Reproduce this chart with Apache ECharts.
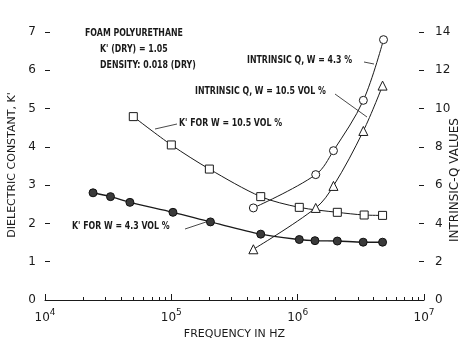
<!DOCTYPE html>
<html>
<head>
<meta charset="utf-8">
<script src="https://cdn.jsdelivr.net/npm/echarts@6/dist/echarts.min.js"></script>
<style>html,body{margin:0;padding:0;background:#fff}#c{width:465px;height:345px}</style>
</head>
<body>
<div id="c"></div>
<script>
// Frequencies (Hz) and values
const kLowFreq = [2.4e4, 3.3e4, 4.7e4, 1.03e5, 2.04e5, 5.1e5, 1.03e6, 1.37e6, 2.06e6, 3.3e6, 4.7e6];
const kLowVals = [2.80, 2.70, 2.55, 2.29, 2.04, 1.72, 1.58, 1.55, 1.54, 1.51, 1.51];
const kHighFreq = [5.0e4, 1.0e5, 2.0e5, 5.1e5, 1.03e6, 2.06e6, 3.36e6, 4.7e6];
const kHighVals = [4.79, 4.05, 3.42, 2.70, 2.42, 2.29, 2.22, 2.21];
const qLowFreq = [4.46e5, 1.39e6, 1.92e6, 3.31e6, 4.78e6];
const qLowVals = [4.81, 6.55, 7.80, 10.43, 13.6];
const qHighFreq = [4.46e5, 1.39e6, 1.92e6, 3.31e6, 4.7e6];
const qHighVals = [2.65, 4.81, 5.96, 8.83, 11.2];
const leftTicks = [0, 1, 2, 3, 4, 5, 6, 7];
const rightTicks = [0, 2, 4, 6, 8, 10, 12, 14];

const pair = (xs, ys) => xs.map((x, i) => [x, ys[i]]);
// minor tick positions (2..9 in each decade), in log10 units for the helper axis
const minorTicks = [];
for (let d = 4; d < 7; d++) for (let m = 2; m <= 9; m++) minorTicks.push(Math.log10(m * Math.pow(10, d)));

const ink = '#1a1a1a';
const annoFont = { fontFamily: 'DejaVu Sans Condensed', fontWeight: 'bold', fontSize: 9, fill: ink };
function txt(x, y, s) {
  return { type: 'text', x: x, y: y, z: 10, scaleX: 0.97, scaleY: 1.25,
    style: Object.assign({ text: s, textVerticalAlign: 'middle' }, annoFont) };
}
function ln(x1, y1, x2, y2) {
  return { type: 'line', z: 10, shape: { x1, y1, x2, y2 }, style: { stroke: ink, lineWidth: 0.8 } };
}

const chart = echarts.init(document.getElementById('c'), null, { renderer: 'canvas' });
chart.setOption({
  animation: false,
  backgroundColor: '#fff',
  grid: { left: 45, right: 41, top: 32, bottom: 45 },
  xAxis: [{
    type: 'log', logBase: 10, min: 1e4, max: 1e7,
    name: 'FREQUENCY IN HZ', nameLocation: 'middle', nameGap: 27,
    nameTextStyle: { fontFamily: 'DejaVu Sans', fontSize: 11, color: ink },
    axisLine: { show: true, lineStyle: { color: ink, width: 1 } },
    axisTick: { show: true, inside: true, length: 6, lineStyle: { color: ink, width: 1 } },
    splitLine: { show: false },
    minorTick: { show: false },
    axisLabel: {
      margin: 8, color: ink,
      formatter: v => '{b|10}{s|' + Math.round(Math.log10(v)) + '}',
      rich: {
        b: { fontFamily: 'DejaVu Sans', fontSize: 12, color: ink, lineHeight: 16, verticalAlign: 'bottom' },
        s: { fontFamily: 'DejaVu Sans', fontSize: 9, color: ink, lineHeight: 16, verticalAlign: 'top', padding: [0, 0, 6, 0] }
      }
    }
  }, {
    type: 'value', min: 4, max: 7, position: 'bottom', offset: 0,
    axisLine: { show: false },
    axisLabel: { show: false },
    splitLine: { show: false },
    axisTick: { show: true, inside: true, length: 3, customValues: minorTicks, lineStyle: { color: ink, width: 1 } }
  }],
  yAxis: [{
    type: 'value', min: 0, max: 7, interval: 1,
    axisLine: { show: false },
    axisTick: { show: true, inside: true, length: 5, lineStyle: { color: ink, width: 1 } },
    splitLine: { show: false },
    axisLabel: { margin: 9, color: ink, fontFamily: 'DejaVu Sans', fontSize: 12,
      customValues: leftTicks }
  }, {
    type: 'value', min: 0, max: 14, interval: 2,
    axisLine: { show: false },
    axisTick: { show: true, inside: true, length: 5, lineStyle: { color: ink, width: 1 } },
    splitLine: { show: false },
    axisLabel: { margin: 11, color: ink, fontFamily: 'DejaVu Sans', fontSize: 12,
      customValues: rightTicks }
  }],
  series: [{
    name: "K' FOR W = 4.3 VOL %", type: 'line', xAxisIndex: 0, yAxisIndex: 0,
    data: pair(kLowFreq, kLowVals), smooth: 0.3,
    symbol: 'circle', symbolSize: 8,
    itemStyle: { color: '#3a3a3a', borderColor: '#111', borderWidth: 1 },
    lineStyle: { color: ink, width: 1.4 }
  }, {
    name: "K' FOR W = 10.5 VOL %", type: 'line', xAxisIndex: 0, yAxisIndex: 0,
    data: pair(kHighFreq, kHighVals), smooth: 0.3,
    symbol: 'rect', symbolSize: 8,
    itemStyle: { color: '#fff', borderColor: ink, borderWidth: 1 },
    lineStyle: { color: ink, width: 1 }
  }, {
    name: 'INTRINSIC Q, W = 4.3 %', type: 'line', xAxisIndex: 0, yAxisIndex: 1,
    data: pair(qLowFreq, qLowVals), smooth: 0.35,
    symbol: 'circle', symbolSize: 8,
    itemStyle: { color: '#fff', borderColor: ink, borderWidth: 1 },
    lineStyle: { color: ink, width: 1 }
  }, {
    name: 'INTRINSIC Q, W = 10.5 VOL %', type: 'line', xAxisIndex: 0, yAxisIndex: 1,
    data: pair(qHighFreq, qHighVals), smooth: 0.35,
    symbol: 'triangle', symbolSize: 9,
    itemStyle: { color: '#fff', borderColor: ink, borderWidth: 1 },
    lineStyle: { color: ink, width: 1 }
  }],
  graphic: [
    { type: 'text', x: 12, y: 165, rotation: Math.PI / 2, z: 10,
      style: { text: "DIELECTRIC CONSTANT, K'", textAlign: 'center', textVerticalAlign: 'middle',
        fontFamily: 'DejaVu Sans', fontSize: 11, fill: ink } },
    { type: 'text', x: 455, y: 180, rotation: Math.PI / 2, z: 10,
      style: { text: 'INTRINSIC-Q VALUES', textAlign: 'center', textVerticalAlign: 'middle',
        fontFamily: 'DejaVu Sans', fontSize: 12, fill: ink } },
    txt(85, 33, 'FOAM POLYURETHANE'),
    txt(100, 49, "K' (DRY) = 1.05"),
    txt(100, 65, 'DENSITY: 0.018 (DRY)'),
    txt(247, 60, 'INTRINSIC Q, W = 4.3 %'),
    ln(364, 62, 374, 64),
    txt(195, 91, 'INTRINSIC Q, W = 10.5 VOL %'),
    ln(335, 94, 367, 117),
    txt(179, 123, "K' FOR W = 10.5 VOL %"),
    ln(155, 129, 177, 124),
    txt(72, 226, "K' FOR W = 4.3 VOL %"),
    ln(185, 229, 206, 222)
  ]
});
</script>
</body>
</html>
